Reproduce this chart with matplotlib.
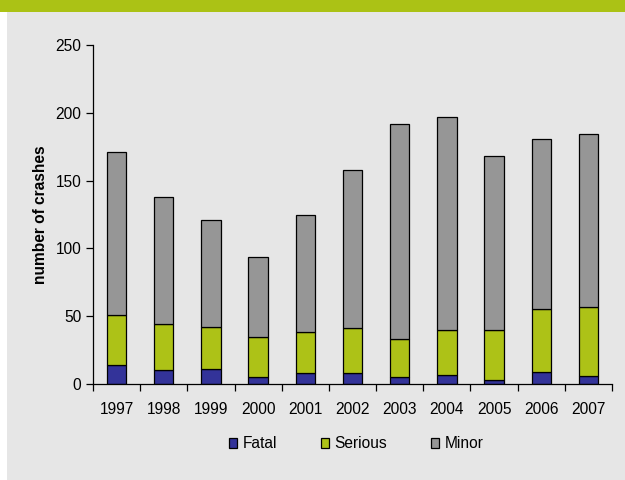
import matplotlib
matplotlib.use("Agg")
import matplotlib.pyplot as plt
import numpy as np
from matplotlib.patches import Rectangle

BG = "#e6e6e6"
BAND = "#abc215"
FATAL_C = "#333399"
SERIOUS_C = "#adc217"
MINOR_C = "#969696"

years = ["1997", "1998", "1999", "2000", "2001", "2002",
         "2003", "2004", "2005", "2006", "2007"]
fatal = [14, 10, 11, 5, 8, 8, 5, 7, 3, 9, 6]
serious = [37, 34, 31, 30, 30, 33, 28, 33, 37, 46, 51]
minor = [120, 94, 79, 59, 87, 117, 159, 157, 128, 126, 127]

FS = 11.2
plt.rcParams.update({"font.family": "Liberation Sans", "font.size": FS})

fig = plt.figure(figsize=(6.25, 4.8), dpi=100, facecolor="white")

# background: grey panel with a green header band
bg = fig.add_axes([0, 0, 1, 1], zorder=-10)
bg.set_xlim(0, 625)
bg.set_ylim(480, 0)
bg.axis("off")
bg.add_patch(Rectangle((7, 12), 625, 480, facecolor=BG, edgecolor="none"))
bg.add_patch(Rectangle((0, 0), 625, 12, facecolor=BAND, edgecolor="none"))

ax = fig.add_axes([93 / 625, 1 - 384 / 480, (612 - 93) / 625, (384 - 45) / 480])
ax.set_facecolor("none")

x = np.arange(len(years))
f = np.array(fatal)
s = np.array(serious)
m = np.array(minor)
w = 0.41
kw = dict(width=w, edgecolor="black", linewidth=0.9)
ax.bar(x, f, color=FATAL_C, label="Fatal", **kw)
ax.bar(x, s, bottom=f, color=SERIOUS_C, label="Serious", **kw)
ax.bar(x, m, bottom=f + s, color=MINOR_C, label="Minor", **kw)

ax.set_xlim(-0.5, len(years) - 0.5)
ax.set_ylim(0, 250)
ax.set_yticks(range(0, 251, 50))
ax.set_xticks(x)
ax.set_xticklabels(years)
ax.set_xticks(np.arange(-0.5, len(years)), minor=True)
ax.tick_params(axis="x", which="major", length=0, pad=13, labelsize=FS)
ax.tick_params(axis="x", which="minor", length=5, width=0.9, direction="out")
ax.tick_params(axis="y", length=5, width=0.9, direction="out", labelsize=FS)

for side in ("top", "right"):
    ax.spines[side].set_visible(False)
for side in ("left", "bottom"):
    ax.spines[side].set_linewidth(0.9)

ax.set_ylabel("number of crashes", fontweight="bold", fontsize=FS, labelpad=5)

fig.legend(loc="center", bbox_to_anchor=(0.57, 1 - 444 / 480), ncol=3,
           frameon=False, handlelength=0.55, handleheight=0.55,
           columnspacing=2.8, handletextpad=0.35, fontsize=FS)

fig.savefig("out.png", dpi=100, facecolor=fig.get_facecolor())
